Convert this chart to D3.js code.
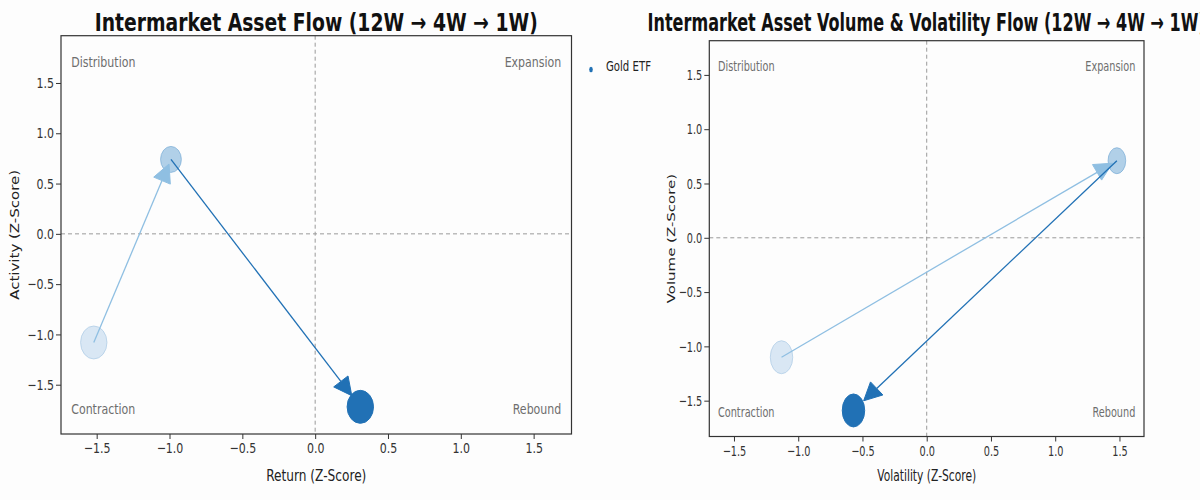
<!DOCTYPE html>
<html>
<head>
<meta charset="utf-8">
<script src="https://cdn.jsdelivr.net/npm/d3@7"></script>
<style>
  body { margin: 0; background: #fdfdfd; }
  svg { display: block; font-family: "DejaVu Sans", sans-serif; }
</style>
</head>
<body>
<svg id="chart" width="1200" height="500"></svg>
<script>
// DATA
const periods = ["12W", "4W", "1W"]
const assetName = "Gold ETF"
const flowReturn = [-1.52, -0.99, 0.31]
const flowActivity = [-1.08, 0.74, -1.72]
const volVolatility = [-1.13, 1.48, -0.57]
const volVolume = [-1.10, 0.71, -1.59]
const tickValues = [-1.5, -1.0, -0.5, 0.0, 0.5, 1.0, 1.5]
const quadrantNames = ["Distribution", "Expansion", "Contraction", "Rebound"]

// STYLE per period
const periodStyle = {
    "12W": {fill: "#c6dbef", stroke: "#a8c8e4", opacity: 0.65, r: 16.5},
    "4W":  {fill: "#7fb2da", stroke: "#6aa3d2", opacity: 0.6, r: 13},
    "1W":  {fill: "#2171b5", stroke: "#2171b5", opacity: 1, r: 16.5}
}
const arrowStyle = [
    {color: "#8fbfe2", shrink: 5},
    {color: "#2171b5", shrink: 14}
]

const svg = d3.select("#chart")

function squeezeText(sel, sx) {
    sel.each(function() {
        let t = d3.select(this)
        let x = +t.attr("x") || 0
        let y = +t.attr("y") || 0
        t.attr("x", 0).attr("y", 0)
         .attr("transform", `translate(${x},${y}) scale(${sx},1)`)
    })
}

function drawPanel(opt) {
    let x = d3.scaleLinear().domain(opt.xDomain).range([opt.left, opt.right])
    let y = d3.scaleLinear().domain(opt.yDomain).range([opt.bottom, opt.top])
    let w = opt.right - opt.left
    let h = opt.bottom - opt.top
    let sx = opt.squeeze

    let g = svg.append("g")

    // zero lines
    g.append("line")
        .attr("x1", x(0)).attr("x2", x(0))
        .attr("y1", opt.top).attr("y2", opt.bottom)
        .attr("stroke", "#9a9a9a").attr("stroke-width", 1)
        .attr("stroke-dasharray", "4,3")
    g.append("line")
        .attr("x1", opt.left).attr("x2", opt.right)
        .attr("y1", y(0)).attr("y2", y(0))
        .attr("stroke", "#9a9a9a").attr("stroke-width", 1)
        .attr("stroke-dasharray", "4,3")

    // X AXIS
    let xa = g.append("g")
        .attr("transform", `translate(0,${opt.bottom})`)
        .call(d3.axisBottom(x).tickValues(tickValues).tickFormat(d3.format(".1f")).tickSize(5).tickSizeOuter(0))
    xa.select(".domain").remove()
    xa.selectAll("line").attr("stroke", "#333")
    xa.selectAll("text").attr("fill", "#333").attr("font-size", 14.5).attr("font-family", "DejaVu Sans").attr("y", 9)
    squeezeText(xa.selectAll("text"), sx)

    // Y AXIS
    let ya = g.append("g")
        .attr("transform", `translate(${opt.left},0)`)
        .call(d3.axisLeft(y).tickValues(tickValues).tickFormat(d3.format(".1f")).tickSize(5).tickSizeOuter(0))
    ya.select(".domain").remove()
    ya.selectAll("line").attr("stroke", "#333")
    ya.selectAll("text").attr("fill", "#333").attr("font-size", 14.5).attr("font-family", "DejaVu Sans").attr("x", -7)
    squeezeText(ya.selectAll("text"), sx)

    // FRAME
    g.append("rect")
        .attr("x", opt.left).attr("y", opt.top)
        .attr("width", w).attr("height", h)
        .attr("fill", "none").attr("stroke", "#333").attr("stroke-width", 1.2)

    // QUADRANT LABELS
    let qpos = [
        {x: opt.left + 0.02 * w, y: opt.top + 0.05 * h + 11, anchor: "start"},
        {x: opt.right - 0.02 * w, y: opt.top + 0.05 * h + 11, anchor: "end"},
        {x: opt.left + 0.02 * w, y: opt.bottom - 0.05 * h, anchor: "start"},
        {x: opt.right - 0.02 * w, y: opt.bottom - 0.05 * h, anchor: "end"}
    ]
    quadrantNames.forEach((name, i) => {
        g.append("text")
            .attr("transform", `translate(${qpos[i].x},${qpos[i].y}) scale(${sx},1)`)
            .attr("text-anchor", qpos[i].anchor)
            .attr("font-size", 14.5)
            .attr("fill", "#6e6e6e")
            .text(name)
    })

    // BUBBLES
    let pts = periods.map((p, i) => ({period: p, xv: opt.xs[i], yv: opt.ys[i]}))
    g.selectAll(".bubble")
        .data(pts)
        .enter()
        .append("ellipse")
            .attr("cx", d => x(d.xv))
            .attr("cy", d => y(d.yv))
            .attr("rx", d => periodStyle[d.period].r * opt.aspect)
            .attr("ry", d => periodStyle[d.period].r)
            .attr("fill", d => periodStyle[d.period].fill)
            .attr("fill-opacity", d => periodStyle[d.period].opacity)
            .attr("stroke", d => periodStyle[d.period].stroke)
            .attr("stroke-opacity", d => periodStyle[d.period].opacity)

    // ARROWS
    for (let i = 0; i < pts.length - 1; i++) {
        let x0 = x(pts[i].xv), y0 = y(pts[i].yv)
        let x1 = x(pts[i + 1].xv), y1 = y(pts[i + 1].yv)
        let dx = x1 - x0, dy = y1 - y0
        let len = Math.sqrt(dx * dx + dy * dy)
        let ux = dx / len, uy = dy / len
        let st = arrowStyle[i]
        let tipX = x1 - ux * st.shrink, tipY = y1 - uy * st.shrink
        let headLen = 18, headHalf = 9
        let baseX = tipX - ux * headLen, baseY = tipY - uy * headLen
        g.append("line")
            .attr("x1", x0).attr("y1", y0)
            .attr("x2", baseX).attr("y2", baseY)
            .attr("stroke", st.color).attr("stroke-width", 1.3)
        g.append("polygon")
            .attr("points", [
                [tipX, tipY],
                [baseX - uy * headHalf, baseY + ux * headHalf],
                [baseX + uy * headHalf, baseY - ux * headHalf]
            ].map(p => p.join(",")).join(" "))
            .attr("fill", st.color).attr("stroke", st.color).attr("stroke-width", 1)
            .attr("stroke-linejoin", "round")
    }

    // TITLE
    g.append("text")
        .attr("transform", `translate(${(opt.left + opt.right) / 2},31) scale(${opt.titleSqueeze},1)`)
        .attr("text-anchor", "middle")
        .attr("font-size", 24.7)
        .attr("font-weight", "bold")
        .attr("fill", "#111")
        .text(opt.title)

    // X LABEL
    g.append("text")
        .attr("transform", `translate(${(opt.left + opt.right) / 2},481) scale(${sx},1)`)
        .attr("text-anchor", "middle")
        .attr("font-size", 16)
        .attr("fill", "#222")
        .text(opt.xLabel)

    // Y LABEL
    g.append("text")
        .attr("transform", `translate(${opt.yLabelX},${(opt.top + opt.bottom) / 2}) rotate(-90) scale(1,${sx})`)
        .attr("text-anchor", "middle")
        .attr("font-size", 15)
        .attr("fill", "#222")
        .text(opt.yLabel)
}

drawPanel({
    left: 61, right: 571.5, top: 35.7, bottom: 434,
    xDomain: [-1.745, 1.76], yDomain: [-1.99, 1.97],
    xs: flowReturn, ys: flowActivity,
    squeeze: 0.76, titleSqueeze: 0.76, aspect: 0.8,
    title: "Intermarket Asset Flow (12W \u2192 4W \u2192 1W)",
    xLabel: "Return (Z-Score)", yLabel: "Activity (Z-Score)", yLabelX: 19
})

drawPanel({
    left: 709.3, right: 1144, top: 40.7, bottom: 436.5,
    xDomain: [-1.692, 1.691], yDomain: [-1.83, 1.815],
    xs: volVolatility, ys: volVolume,
    squeeze: 0.67, titleSqueeze: 0.65, aspect: 0.68,
    title: "Intermarket Asset Volume & Volatility Flow (12W \u2192 4W \u2192 1W)",
    xLabel: "Volatility (Z-Score)", yLabel: "Volume (Z-Score)", yLabelX: 675
})

// LEGEND
svg.append("ellipse")
    .attr("cx", 591).attr("cy", 69.5)
    .attr("rx", 1.8).attr("ry", 2.8)
    .attr("fill", periodStyle["1W"].fill)
svg.append("text")
    .attr("transform", "translate(606,70.7) scale(0.7,1)")
    .attr("font-size", 14.5)
    .attr("fill", "#222")
    .text(assetName)
</script>
</body>
</html>
